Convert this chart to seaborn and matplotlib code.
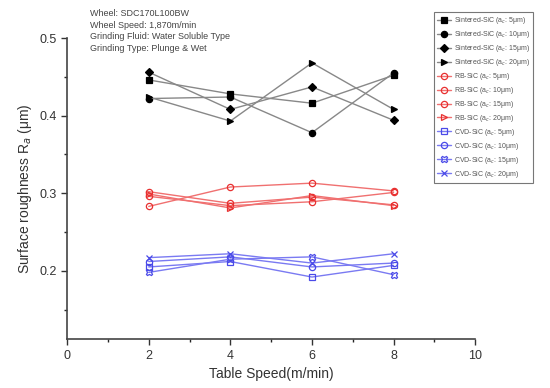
import pandas as pd
import matplotlib.pyplot as plt
import seaborn as sns

# Table speed (m/min)
speed = [2, 4, 6, 8]

# Surface roughness Ra (um)
sintered_5 = [0.446, 0.428, 0.416, 0.452]
sintered_10 = [0.422, 0.424, 0.378, 0.455]
sintered_15 = [0.456, 0.408, 0.437, 0.394]
sintered_20 = [0.424, 0.393, 0.468, 0.408]

rb_5 = [0.302, 0.287, 0.295, 0.285]
rb_10 = [0.283, 0.308, 0.313, 0.303]
rb_15 = [0.296, 0.284, 0.289, 0.301]
rb_20 = [0.299, 0.281, 0.297, 0.284]

cvd_5 = [0.205, 0.212, 0.192, 0.207]
cvd_10 = [0.212, 0.218, 0.205, 0.210]
cvd_15 = [0.198, 0.215, 0.218, 0.195]
cvd_20 = [0.217, 0.222, 0.210, 0.222]

depths = ['5', '10', '15', '20']

sns.set_style('ticks')
plt.rcParams['font.family'] = ['Liberation Sans', 'DejaVu Sans']

fig = plt.figure(figsize=(5.5, 3.88), dpi=100)
ax = fig.add_axes([0.122, 0.126, 0.742, 0.776])

groups = [
    ('Sintered-SiC', [sintered_5, sintered_10, sintered_15, sintered_20],
     '#888888', 'black', ['s', 'o', 'D', '>'], True),
    ('RB-SiC', [rb_5, rb_10, rb_15, rb_20],
     '#f07070', '#e83030', ['o', 'o', 'o', '>'], False),
    ('CVD-SiC', [cvd_5, cvd_10, cvd_15, cvd_20],
     '#7a7af2', '#4a4ae8', ['s', 'o', 'X', 'x'], False),
]

handles = []
for name, series, lcol, mcol, marks, filled in groups:
    for d, vals, m in zip(depths, series, marks):
        df = pd.DataFrame({'speed': speed, 'ra': vals})
        sns.lineplot(data=df, x='speed', y='ra', ax=ax, color=lcol, lw=1.0,
                     marker=m, markersize=4.5 if m != 'D' else 4,
                     markeredgecolor=mcol,
                     markerfacecolor=mcol if filled else 'none',
                     markeredgewidth=0.9)
        handles.append((ax.lines[-1], f'{name} (a$_{{c}}$: {d}\u03bcm)'))

ax.set_xlim(0, 10)
ax.set_ylim(0.112, 0.5)
ax.set_xticks([0, 2, 4, 6, 8, 10])
ax.set_xticks([1, 3, 5, 7, 9], minor=True)
ax.set_yticks([0.2, 0.3, 0.4, 0.5])
ax.set_yticks([0.15, 0.25, 0.35, 0.45], minor=True)
ax.tick_params(axis='both', labelsize=9, colors='#333333', length=4, width=1)
ax.tick_params(which='minor', length=2.5, width=1)
sns.despine(ax=ax)
for s in ['left', 'bottom']:
    ax.spines[s].set_color('#444444')
    ax.spines[s].set_linewidth(1.2)

ax.set_xlabel('Table Speed(m/min)', fontsize=10, color='#333333')
ax.set_ylabel('Surface roughness R$_a$ (\u03bcm)', fontsize=10, color='#333333')

notes = ['Wheel: SDC170L100BW', 'Wheel Speed: 1,870m/min',
         'Grinding Fluid: Water Soluble Type', 'Grinding Type: Plunge & Wet']
for i, t in enumerate(notes):
    fig.text(0.163, 0.965 - i * 0.03, t, fontsize=6.5, color='#444444', va='center')

leg = fig.legend([h for h, _ in handles], [l for _, l in handles],
                 loc='upper left', bbox_to_anchor=(0.782, 0.978),
                 fontsize=5, handlelength=2.0, handletextpad=0.4,
                 labelspacing=0.42, borderpad=0.5, frameon=True, fancybox=False,
                 edgecolor='#555555', labelcolor='#555555')
leg.get_frame().set_linewidth(0.8)

fig.savefig('out.png', dpi=100)
